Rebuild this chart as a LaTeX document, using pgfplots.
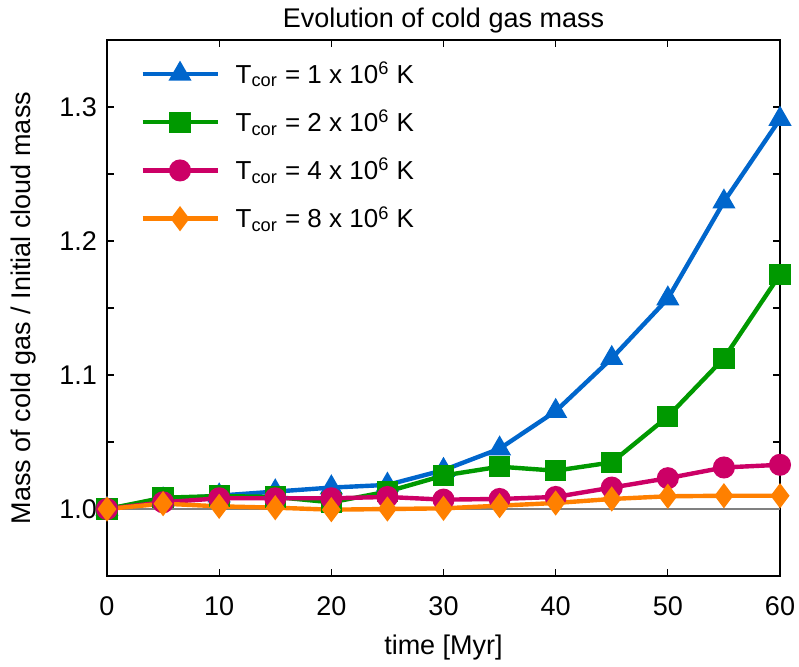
\documentclass[border=0pt]{standalone}
\usepackage{pgfplots}
\pgfplotsset{compat=1.18}
\usepackage{fontspec}
\setmainfont{Liberation Sans}

\definecolor{cblue}{RGB}{0,102,204}
\definecolor{cgreen}{RGB}{0,153,0}
\definecolor{cmagenta}{RGB}{204,0,102}
\definecolor{corange}{RGB}{255,128,0}

\begin{document}
\begin{tikzpicture}
\begin{axis}[
  width=336.5pt, height=268pt, scale only axis,
  xmin=0, xmax=60, ymin=0.95, ymax=1.35,
  xtick={0,10,...,60},
  ytick={1.0,1.1,1.2,1.3},
  minor ytick={0.95,1.05,1.15,1.25},
  tick align=inside,
  major tick length=3.5pt, minor tick length=3.5pt,
  tick style={black, line width=0.6pt},
  axis line style={line width=0.8pt},
  font=\fontsize{13.5}{16}\selectfont,
  /pgf/number format/assume math mode=true,
  yticklabel style={xshift=-1.5pt, /pgf/number format/fixed,
    /pgf/number format/precision=1,
    /pgf/number format/fixed zerofill},
  xticklabel style={yshift=-7pt},
  title={Evolution of cold gas mass},
  title style={yshift=-6pt},
  xlabel={time [Myr]},
  xlabel shift=2.5pt,
  ylabel={Mass of cold gas / Initial cloud mass},
  ylabel shift=5pt,
  legend cell align=left,
  legend style={at={(0.04,0.975)}, anchor=north west, draw=none, fill=none,
    row sep=7.9pt, font=\fontsize{13}{16}\selectfont,
    /tikz/every odd column/.append style={column sep=6pt}},
  legend image code/.code={
    \draw[mark repeat=2, mark phase=2] plot coordinates {(0pt,0pt) (18.75pt,0pt) (37.5pt,0pt)};},
  every axis plot/.append style={line width=2.2pt},
]
\coordinate (sw) at (rel axis cs:0,0);
\coordinate (ne) at (rel axis cs:1,1);

% reference level: no change in cold gas mass
\addplot[gray, line width=0.6pt, forget plot] coordinates {(0,1.0) (60,1.0)};

\addplot[cblue, mark=triangle*, mark size=4.5pt, mark options={solid}] coordinates {
  (0,1.0) (5,1.007) (10,1.010) (15,1.013) (20,1.016) (25,1.018) (30,1.029)
  (35,1.045) (40,1.073) (45,1.1125) (50,1.157) (55,1.2293) (60,1.291)};
\addlegendentry{T\textsubscript{cor} = 1 x 10\textsuperscript{6} K}

\addplot[cgreen, mark=square*, mark size=4.2pt] coordinates {
  (0,1.0) (5,1.0084) (10,1.0097) (15,1.009) (20,1.005) (25,1.013) (30,1.025)
  (35,1.0316) (40,1.0286) (45,1.0348) (50,1.069) (55,1.1125) (60,1.175)};
\addlegendentry{T\textsubscript{cor} = 2 x 10\textsuperscript{6} K}

\addplot[cmagenta, mark=*, mark size=4.4pt] coordinates {
  (0,1.0) (5,1.005) (10,1.008) (15,1.008) (20,1.008) (25,1.009) (30,1.007)
  (35,1.0075) (40,1.009) (45,1.016) (50,1.023) (55,1.031) (60,1.033)};
\addlegendentry{T\textsubscript{cor} = 4 x 10\textsuperscript{6} K}

\addplot[corange, mark=diamond*, mark size=4.5pt] coordinates {
  (0,1.0) (5,1.004) (10,1.002) (15,1.001) (20,0.9995) (25,1.0) (30,1.0005)
  (35,1.0025) (40,1.0045) (45,1.0075) (50,1.0095) (55,1.0099) (60,1.0099)};
\addlegendentry{T\textsubscript{cor} = 8 x 10\textsuperscript{6} K}
\end{axis}
\pgfresetboundingbox
\path ([xshift=-53.5pt,yshift=-45pt]sw) rectangle ([xshift=9.5pt,yshift=20pt]ne);
\end{tikzpicture}
\end{document}
